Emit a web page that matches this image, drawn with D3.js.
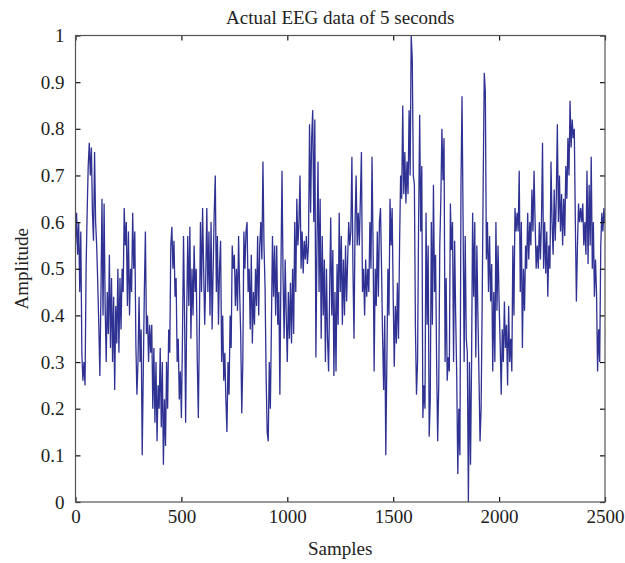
<!DOCTYPE html>
<html>
<head>
<meta charset="utf-8">
<script src="https://cdn.jsdelivr.net/npm/d3@7/dist/d3.min.js"></script>
<style>
  body { margin: 0; background: #fff; }
  text { font-family: "Liberation Serif", "DejaVu Serif", serif; }
</style>
</head>
<body>
<svg id="chart"></svg>
<script>
// amplitude, one value every 5 samples
let amplitude = [
  0.55,0.62,0.53,0.6,0.45,0.58,0.32,0.26,0.3,0.25,0.5,0.62,0.72,0.77,0.7,0.76,0.62,0.56,0.75,0.6,
  0.55,0.47,0.38,0.27,0.44,0.65,0.4,0.64,0.42,0.3,0.45,0.36,0.53,0.33,0.48,0.3,0.44,0.24,0.42,0.34,
  0.5,0.32,0.48,0.37,0.5,0.45,0.63,0.55,0.6,0.42,0.58,0.4,0.5,0.45,0.62,0.5,0.58,0.34,0.23,0.3,
  0.44,0.3,0.37,0.1,0.28,0.45,0.58,0.36,0.4,0.3,0.38,0.32,0.38,0.2,0.33,0.17,0.3,0.13,0.25,0.2,
  0.33,0.16,0.3,0.08,0.22,0.12,0.3,0.2,0.37,0.32,0.55,0.59,0.5,0.56,0.44,0.48,0.3,0.35,0.22,0.28,
  0.18,0.35,0.57,0.4,0.17,0.4,0.57,0.42,0.59,0.35,0.5,0.4,0.55,0.45,0.5,0.3,0.18,0.38,0.6,0.45,
  0.63,0.5,0.38,0.48,0.63,0.45,0.58,0.4,0.6,0.37,0.5,0.62,0.7,0.45,0.57,0.38,0.5,0.56,0.3,0.4,
  0.26,0.32,0.22,0.15,0.3,0.23,0.4,0.33,0.55,0.5,0.53,0.42,0.5,0.41,0.57,0.45,0.36,0.19,0.3,0.58,
  0.5,0.58,0.6,0.45,0.5,0.37,0.53,0.34,0.45,0.38,0.5,0.42,0.57,0.4,0.55,0.6,0.52,0.73,0.55,0.46,
  0.27,0.15,0.13,0.3,0.2,0.38,0.57,0.44,0.55,0.4,0.55,0.38,0.45,0.23,0.5,0.71,0.48,0.35,0.52,0.4,
  0.3,0.45,0.35,0.47,0.34,0.5,0.36,0.6,0.45,0.65,0.55,0.6,0.7,0.5,0.58,0.49,0.56,0.52,0.57,0.51,
  0.55,0.81,0.62,0.78,0.84,0.6,0.82,0.31,0.55,0.73,0.45,0.65,0.35,0.57,0.4,0.52,0.3,0.5,0.35,0.28,
  0.45,0.61,0.4,0.54,0.27,0.45,0.28,0.51,0.38,0.62,0.45,0.57,0.38,0.52,0.4,0.55,0.43,0.52,0.6,0.55,
  0.58,0.74,0.5,0.35,0.6,0.7,0.55,0.62,0.55,0.65,0.75,0.45,0.5,0.4,0.52,0.44,0.5,0.45,0.6,0.5,
  0.74,0.55,0.28,0.5,0.42,0.58,0.44,0.6,0.63,0.5,0.35,0.24,0.4,0.1,0.3,0.5,0.4,0.65,0.55,0.63,
  0.44,0.29,0.42,0.34,0.47,0.35,0.55,0.7,0.65,0.85,0.66,0.75,0.64,0.73,0.66,0.84,0.7,1.0,0.95,0.7,
  0.68,0.37,0.23,0.3,0.6,0.83,0.58,0.72,0.18,0.25,0.2,0.62,0.38,0.55,0.14,0.22,0.6,0.38,0.68,0.45,
  0.53,0.3,0.13,0.25,0.55,0.65,0.8,0.69,0.78,0.3,0.48,0.26,0.31,0.28,0.64,0.54,0.6,0.3,0.56,0.4,
  0.27,0.06,0.2,0.1,0.68,0.87,0.6,0.3,0.57,0.35,0.32,0.0,0.3,0.08,0.3,0.62,0.44,0.6,0.31,0.55,
  0.4,0.27,0.13,0.2,0.42,0.69,0.92,0.88,0.52,0.6,0.45,0.57,0.43,0.51,0.28,0.45,0.3,0.6,0.41,0.55,
  0.43,0.34,0.23,0.37,0.3,0.43,0.33,0.38,0.25,0.42,0.3,0.35,0.28,0.55,0.4,0.63,0.58,0.62,0.58,0.71,
  0.45,0.6,0.33,0.5,0.41,0.55,0.5,0.62,0.52,0.6,0.55,0.67,0.58,0.71,0.6,0.5,0.55,0.5,0.6,0.52,
  0.6,0.77,0.5,0.6,0.49,0.58,0.44,0.55,0.5,0.73,0.6,0.53,0.67,0.56,0.65,0.81,0.6,0.7,0.58,0.66,
  0.55,0.65,0.57,0.72,0.65,0.78,0.7,0.86,0.76,0.82,0.78,0.8,0.6,0.43,0.55,0.64,0.6,0.63,0.6,0.64,
  0.55,0.6,0.53,0.71,0.51,0.68,0.55,0.74,0.5,0.6,0.44,0.52,0.45,0.28,0.37,0.3,0.55,0.62,0.58,0.63,
  0.6
]
let sampleStep = 5
let xTicks = [0, 500, 1000, 1500, 2000, 2500]
let yTicks = [0, 0.1, 0.2, 0.3, 0.4, 0.5, 0.6, 0.7, 0.8, 0.9, 1]

let margin = { top: 35.5, right: 20, bottom: 61, left: 75.5 },
    width = 625 - margin.left - margin.right,
    height = 563 - margin.top - margin.bottom

let data = amplitude.map((v, i) => ({ sample: Math.min(i * sampleStep, 2499), value: v }))

let x = d3.scaleLinear().domain([0, 2500]).range([0, width])
let y = d3.scaleLinear().domain([0, 1]).range([height, 0])

let svg = d3.select("#chart")
    .attr("width", 625)
    .attr("height", 563)

let g = svg.append("g")
    .attr("transform", "translate(" + margin.left + "," + margin.top + ")")

svg.append("defs").append("clipPath")
    .attr("id", "clip")
    .append("rect")
    .attr("width", width)
    .attr("height", height)

let line = d3.line()
    .x(d => x(d.sample))
    .y(d => y(d.value))

g.append("path")
    .datum(data)
    .attr("d", line)
    .attr("fill", "none")
    .attr("stroke", "#2f3193")
    .attr("stroke-width", 1.3)
    .attr("clip-path", "url(#clip)")

let fmt = d => String(+d.toFixed(1))

// axes with inward ticks on all four sides
let xAxis = d3.axisBottom(x).tickValues(xTicks).tickSizeInner(-5).tickSizeOuter(0).tickPadding(8).tickFormat(d3.format("d"))
let xTop = d3.axisTop(x).tickValues(xTicks).tickSizeInner(-5).tickSizeOuter(0).tickFormat("")
let yAxis = d3.axisLeft(y).tickValues(yTicks).tickSizeInner(-5).tickSizeOuter(0).tickPadding(11).tickFormat(fmt)
let yRight = d3.axisRight(y).tickValues(yTicks).tickSizeInner(-5).tickSizeOuter(0).tickFormat("")

function styleAxis(sel) {
    sel.select(".domain").remove()
    sel.selectAll(".tick line").attr("stroke", "#111").attr("stroke-width", 1.2)
    sel.selectAll(".tick text")
        .attr("fill", "#222")
        .style("font-family", "'Liberation Serif', serif")
        .style("font-size", "19px")
}

g.append("g").attr("transform", "translate(0," + height + ")").call(xAxis).call(styleAxis)
g.append("g").call(xTop).call(styleAxis)
g.append("g").call(yAxis).call(styleAxis)
g.append("g").attr("transform", "translate(" + width + ",0)").call(yRight).call(styleAxis)

g.append("rect")
    .attr("width", width)
    .attr("height", height)
    .attr("fill", "none")
    .attr("stroke", "#555")
    .attr("stroke-width", 1.2)

svg.append("text")
    .attr("x", margin.left + width / 2)
    .attr("y", 24)
    .attr("text-anchor", "middle")
    .attr("fill", "#222")
    .style("font-size", "19px")
    .text("Actual EEG data of 5 seconds")

svg.append("text")
    .attr("x", margin.left + width / 2)
    .attr("y", 555)
    .attr("text-anchor", "middle")
    .attr("fill", "#222")
    .style("font-size", "19px")
    .text("Samples")

svg.append("text")
    .attr("transform", "translate(28," + (margin.top + height / 2) + ") rotate(-90)")
    .attr("text-anchor", "middle")
    .attr("fill", "#222")
    .style("font-size", "19px")
    .text("Amplitude")
</script>
</body>
</html>
